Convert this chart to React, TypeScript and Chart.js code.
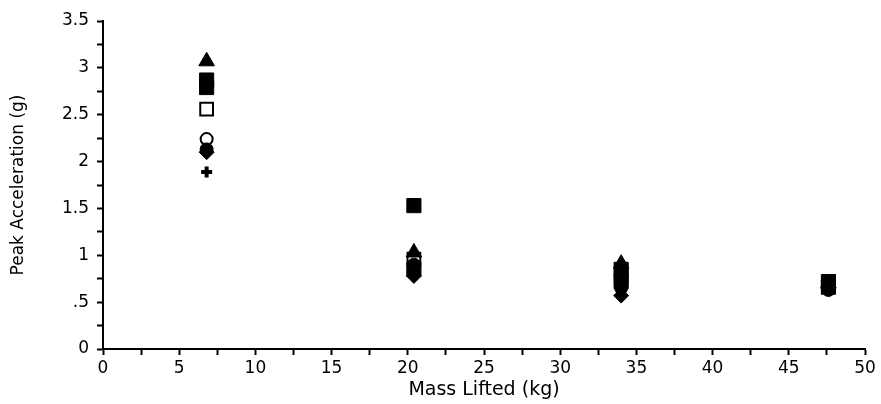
import React, { useEffect, useRef } from 'react';
import { Chart, registerables } from 'chart.js';

Chart.register(...registerables);

// Mass lifted (kg) for each condition
const massLifted = [6.8, 20.4, 34.0, 47.6];

// Peak acceleration (g) per subject/marker
const filledTriangle = [3.07, 1.03, 0.91, 0.7];
const filledSquareA = [2.87, 1.53, 0.85, 0.72];
const filledSquareB = [2.79, 0.85, 0.72, 0.66];
const openSquare = [2.56, 0.96, 0.77, 0.68];
const openCircle = [2.24, 0.97, 0.75, 0.67];
const filledCircle = [2.13, 0.9, 0.65, 0.63];
const filledDiamond = [2.1, 0.78, 0.57, 0.65];
const crossMarks = [1.89, 0.88, 0.7, 0.68];

const xTicks = [0, 5, 10, 15, 20, 25, 30, 35, 40, 45, 50];
const yTicks = [0, 0.5, 1, 1.5, 2, 2.5, 3, 3.5];
const yTickLabels = ['0', '.5', '1', '1.5', '2', '2.5', '3', '3.5'];

const toPoints = (vals: number[]) => vals.map((y, i) => ({ x: massLifted[i], y }));

export default function App() {
  const ref = useRef<HTMLCanvasElement | null>(null);

  useEffect(() => {
    document.body.style.margin = '0';
    const canvas = ref.current;
    if (!canvas) return;
    const font = 'DejaVu Sans';
    const mk = (
      label: string,
      vals: number[],
      style: any,
      radius: number,
      filled: boolean,
      bw = 1
    ) => ({
      label,
      data: toPoints(vals),
      pointStyle: style,
      pointRadius: radius,
      pointHoverRadius: radius,
      backgroundColor: filled ? '#000' : '#fff',
      borderColor: '#000',
      borderWidth: bw,
      showLine: false,
    });
    const chart = new Chart(canvas, {
      type: 'scatter',
      data: {
        datasets: [
          mk('Filled triangle', filledTriangle, 'triangle', 9, true),
          mk('Filled square A', filledSquareA, 'rect', 10, true),
          mk('Filled square B', filledSquareB, 'rect', 10, true),
          mk('Filled circle', filledCircle, 'circle', 6.5, true),
          mk('Filled diamond', filledDiamond, 'rectRot', 7.5, true),
          mk('Cross', crossMarks, 'cross', 5.5, false, 4),
          mk('Open square', openSquare, 'rect', 9, false, 2),
          mk('Open circle', openCircle, 'circle', 6, false, 2),
        ],
      },
      options: {
        animation: false,
        responsive: false,
        maintainAspectRatio: false,
        layout: { padding: { top: 21, right: 16, left: 0, bottom: 0 } },
        plugins: {
          legend: { display: false },
          tooltip: { enabled: false },
        },
        scales: {
          x: {
            type: 'linear',
            min: 0,
            max: 50,
            ticks: {
              stepSize: 2.5,
              color: '#000',
              font: { family: font, size: 17 },
              padding: 3,
              maxRotation: 0,
              autoSkip: false,
              callback: (v: any) => (xTicks.includes(Number(v)) ? String(v) : ''),
            },
            grid: {
              drawOnChartArea: false,
              drawTicks: true,
              tickLength: 6,
              tickColor: '#000',
              tickWidth: 2,
            },
            border: { display: true, color: '#000', width: 2 },
            title: {
              display: true,
              text: 'Mass Lifted (kg)',
              color: '#000',
              font: { family: font, size: 19 },
              padding: { top: 0, bottom: 3 },
            },
            afterFit: (scale: any) => {
              scale.height = 55;
            },
          },
          y: {
            type: 'linear',
            min: 0,
            max: 3.5,
            ticks: {
              stepSize: 0.25,
              color: '#000',
              font: { family: font, size: 17 },
              padding: 8,
              autoSkip: false,
              callback: (v: any) => {
                const i = yTicks.indexOf(Number(v));
                return i >= 0 ? yTickLabels[i] : '';
              },
            },
            grid: {
              drawOnChartArea: false,
              drawTicks: true,
              tickLength: 6,
              tickColor: '#000',
              tickWidth: 2,
            },
            border: { display: true, color: '#000', width: 2 },
            title: {
              display: true,
              text: 'Peak Acceleration (g)',
              color: '#000',
              font: { family: font, size: 17 },
              padding: { top: 8, bottom: 0 },
            },
            afterFit: (scale: any) => {
              scale.width = 103;
            },
          },
        },
      },
    });
    return () => chart.destroy();
  }, []);

  return (
    <div style={{ width: 881, height: 404, background: '#fff' }}>
      <canvas ref={ref} width={881} height={404} />
    </div>
  );
}
